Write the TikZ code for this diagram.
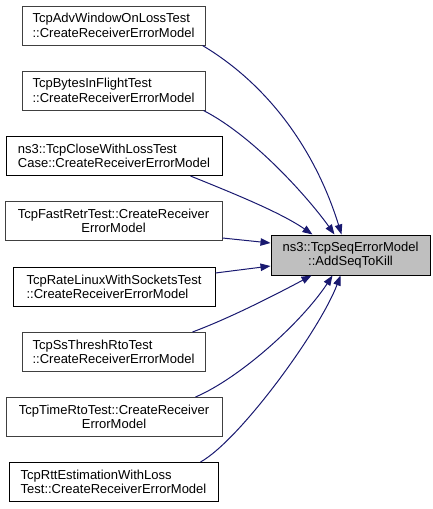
\documentclass[tikz,border=0pt]{standalone}
\usepackage{fontspec}
\setmainfont{Liberation Sans}
\usetikzlibrary{arrows.meta}
\definecolor{edgeblue}{HTML}{191970}
\definecolor{boxgray}{HTML}{404040}
\definecolor{fillgray}{HTML}{BFBFBF}
\tikzset{
  fnbox/.style={draw=black, line width=1pt, rectangle, minimum height=39pt, inner sep=0pt,
    font=\fontsize{13}{14.3}\selectfont, fill=white},
  fngray/.style={fnbox, draw=boxgray},
  targetbox/.style={fnbox, fill=fillgray, minimum height=40pt},
  calledge/.style={draw=edgeblue, line width=1pt, -{Triangle[length=10pt,width=7.5pt]}}
}
\begin{document}
\begin{tikzpicture}[x=1pt,y=-1pt]
\useasboundingbox (0,0) rectangle (433,509);
\node[fngray, minimum width=183pt, align=left] (b1) at (113.5,25.5) {TcpAdvWindowOnLossTest\\::CreateReceiverErrorModel};
\node[fngray, minimum width=183pt, align=left] (b2) at (113.5,90.5) {TcpBytesInFlightTest\\::CreateReceiverErrorModel};
\node[fnbox, minimum width=216pt, align=left] (b3) at (114,156) {ns3::TcpCloseWithLossTest\\Case::CreateReceiverErrorModel};
\node[fngray, minimum width=217pt, align=center] (b4) at (113.5,221) {TcpFastRetrTest::CreateReceiver\\ErrorModel};
\node[fnbox, minimum width=202pt, align=left] (b5) at (114,286.5) {TcpRateLinuxWithSocketsTest\\::CreateReceiverErrorModel};
\node[fngray, minimum width=183pt, align=left] (b6) at (113.5,352) {TcpSsThreshRtoTest\\::CreateReceiverErrorModel};
\node[fngray, minimum width=216pt, align=center] (b7) at (114,417) {TcpTimeRtoTest::CreateReceiver\\ErrorModel};
\node[fnbox, minimum width=209pt, align=left] (b8) at (113.5,482) {TcpRttEstimationWithLoss\\Test::CreateReceiverErrorModel};
\node[targetbox, minimum width=159pt, align=center] (t) at (350.5,255) {ns3::TcpSeqErrorModel\\::AddSeqToKill};

\draw[calledge] ([xshift=-3pt]b1.south east) .. controls (272,87) and (317,155) .. ([xshift=71pt]t.north west);
\draw[calledge] ([xshift=-2pt]b2.south east) .. controls (255,137) and (310,200) .. ([xshift=64pt]t.north west);
\draw[calledge] ([xshift=-32pt]b3.south east) .. controls (230,192) and (280,212) .. ([xshift=42pt]t.north west);
\draw[calledge] ([yshift=3pt]b4.south east) -- ([yshift=12pt]t.west);
\draw[calledge] ([yshift=13.5pt]b5.east) -- ([yshift=-11pt]t.west);
\draw[calledge] ([xshift=-13pt]b6.north east) .. controls (230,318) and (275,295) .. ([xshift=41pt]t.south west);
\draw[calledge] ([xshift=-27pt]b7.north east) .. controls (240,378) and (302,322) .. ([xshift=62pt]t.south west);
\draw[calledge] ([xshift=-18pt]b8.north east) .. controls (240,440) and (320,330) .. ([xshift=70pt]t.south west);
\end{tikzpicture}
\end{document}
